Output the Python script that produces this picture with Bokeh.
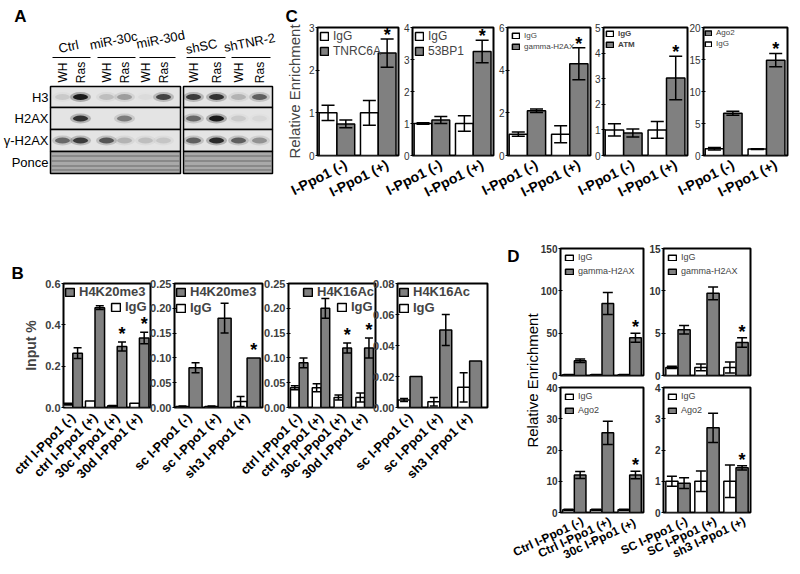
import math
import numpy as np
from bokeh.plotting import figure
from bokeh.models import (Range1d, FixedTicker, PrintfTickFormatter, Whisker, TeeHead,
                          ColumnDataSource, Legend, LegendItem)
from bokeh.layouts import row, column
from bokeh.embed import file_html
from bokeh.resources import INLINE
from bokeh.core.properties import value

FONT = "Liberation Sans"
GRAY = "#808080"

# ---------------- Panel A: western blot (band intensity 0..1) ----------------
blot_groups = ["Ctrl", "miR-30c", "miR-30d", "shSC", "shTNR-2"]
blot_lanes = ["WH", "Ras"] * 5
blot_rows = ["H3", "H2AX", "γ-H2AX", "Ponce"]
band_h3 = [0.10, 1.00, 0.15, 0.30, 0.03, 0.75, 0.80, 0.85, 0.20, 0.60]
band_h2ax = [0.00, 0.85, 0.00, 0.45, 0.00, 0.00, 0.55, 1.00, 0.10, 0.05]
band_gh2ax = [0.55, 0.80, 0.65, 0.20, 0.15, 0.12, 0.60, 0.90, 0.60, 0.35]

# ---------------- Panel B ----------------
b_ctrl_cats = ["ctrl I-Ppo1 (-)", "ctrl I-Ppo1 (+)", "30c I-Ppo1 (+)", "30d I-Ppo1 (+)"]
b_sc_cats = ["sc I-Ppo1 (-)", "sc I-Ppo1 (+)", "sh3 I-Ppo1 (+)"]
b1_igg = [0.016, 0.032, 0.008, 0.021]
b1_igg_err = [0.004, 0.0, 0.002, 0.0]
b1_h4k20 = [0.263, 0.483, 0.295, 0.336]
b1_h4k20_err = [0.026, 0.009, 0.022, 0.028]
b1_sig = [False, False, True, True]
b2_igg = [0.002, 0.002, 0.012]
b2_igg_err = [0.001, 0.001, 0.010]
b2_h4k20 = [0.080, 0.180, 0.100]
b2_h4k20_err = [0.010, 0.030, 0.0]
b2_sig = [False, False, True]
b3_igg = [0.040, 0.040, 0.020, 0.020]
b3_igg_err = [0.004, 0.008, 0.005, 0.009]
b3_h4k16 = [0.090, 0.200, 0.120, 0.120]
b3_h4k16_err = [0.010, 0.020, 0.010, 0.020]
b3_sig = [False, False, True, True]
b4_igg = [0.0048, 0.0037, 0.013]
b4_igg_err = [0.001, 0.0027, 0.0095]
b4_h4k16 = [0.020, 0.050, 0.030]
b4_h4k16_err = [0.0, 0.010, 0.0]
b4_sig = [False, False, False]

# ---------------- Panel C ----------------
c_cats = ["I-Ppo1 (-)", "I-Ppo1 (+)"]
c1_igg, c1_igg_err = [1.0, 1.0], [0.18, 0.29]
c1_tnrc6a, c1_tnrc6a_err = [0.74, 2.40], [0.09, 0.33]
c2_igg, c2_igg_err = [1.0, 1.0], [0.02, 0.24]
c2_53bp1, c2_53bp1_err = [1.11, 3.25], [0.11, 0.35]
c3_igg, c3_igg_err = [1.0, 1.0], [0.10, 0.40]
c3_gh2ax, c3_gh2ax_err = [2.10, 4.30], [0.08, 0.75]
c4_igg, c4_igg_err = [1.0, 1.0], [0.24, 0.33]
c4_atm, c4_atm_err = [0.88, 3.03], [0.16, 0.85]
c5_igg, c5_igg_err = [1.04, 1.0], [0.20, 0.05]
c5_ago2, c5_ago2_err = [6.6, 14.9], [0.3, 1.05]
c_sig = [False, True]

# ---------------- Panel D ----------------
d_ctrl_cats = ["Ctrl I-Ppo1 (-)", "Ctrl I-Ppo1 (+)", "30c  I-Ppo1 (+)"]
d_sc_cats = ["SC I-Ppo1 (-)", "SC I-Ppo1 (+)", "sh3 I-Ppo1 (+)"]
d1_igg, d1_igg_err = [1.0, 1.0, 1.0], [0.3, 0.3, 0.3]
d1_gh2ax, d1_gh2ax_err = [17.4, 85.0, 44.6], [2.0, 13.0, 5.4]
d2_igg, d2_igg_err = [0.95, 0.95, 0.95], [0.13, 0.40, 0.65]
d2_gh2ax, d2_gh2ax_err = [5.4, 9.7, 3.9], [0.5, 0.75, 0.55]
d3_igg, d3_igg_err = [0.85, 0.85, 0.85], [0.2, 0.2, 0.2]
d3_ago2, d3_ago2_err = [12.0, 25.5, 12.0], [1.1, 3.7, 1.2]
d4_igg, d4_igg_err = [1.0, 1.0, 1.0], [0.16, 0.33, 0.52]
d4_ago2, d4_ago2_err = [0.94, 2.71, 1.43], [0.17, 0.47, 0.07]
d_sig = [False, False, True]


# ---------------- helpers ----------------
def make_fig(width, height, bl, br, bt, bb, xr, ymax, ml=0):
    p = figure(width=width, height=height, x_range=Range1d(*xr), y_range=Range1d(0, ymax),
               output_backend="svg", toolbar_location=None, frame_align=False,
               min_border_left=bl, min_border_right=br, min_border_top=bt, min_border_bottom=bb,
               border_fill_color=None, background_fill_color="white",
               outline_line_color="black", outline_line_width=2, margin=(0, 0, 0, ml))
    p.grid.visible = False
    return p


def add_bars(p, n, white, white_err, gray, gray_err, sig, bw, cap, star_off):
    idx = np.arange(n)
    xw = idx - bw / 2
    xg = idx + bw / 2
    rw = p.vbar(x=xw, top=white, width=bw, fill_color="white", line_color="black", line_width=1.5)
    rg = p.vbar(x=xg, top=gray, width=bw, fill_color=GRAY, line_color="black", line_width=1.5)
    xs, lo, hi = [], [], []
    for x, v, e in zip(list(xw) + list(xg), list(white) + list(gray), list(white_err) + list(gray_err)):
        if e > 0:
            xs.append(float(x)); lo.append(v - e); hi.append(v + e)
    src = ColumnDataSource(dict(x=xs, lo=lo, hi=hi))
    p.add_layout(Whisker(base="x", lower="lo", upper="hi", source=src, level="annotation",
                         line_color="black", line_width=1.5,
                         upper_head=TeeHead(size=cap, line_width=1.5, line_color="black"),
                         lower_head=TeeHead(size=cap, line_width=1.5, line_color="black")))
    sx = [float(x) for x, s in zip(xg, sig) if s]
    sy = [v + e for v, e, s in zip(gray, gray_err, sig) if s]
    if sx:
        p.text(x=sx, y=sy, text=["*"] * len(sx), text_font=value(FONT), text_font_size="18px",
               text_font_style="bold", text_align="center", text_baseline="middle",
               y_offset=star_off, text_color="black")
    return rw, rg


def style_axes(p, cats, yticks, yfmt, ysize, ybold, ycolor, xsize, angle, show_x=True, shift=0.0):
    y = p.yaxis[0]
    y.ticker = FixedTicker(ticks=yticks)
    y.formatter = PrintfTickFormatter(format=yfmt)
    y.major_label_text_font = FONT
    y.major_label_text_font_size = ysize
    y.major_label_text_font_style = "bold" if ybold else "normal"
    y.major_label_text_color = ycolor
    y.major_tick_in = 2
    y.major_tick_out = 2
    y.major_tick_line_color = "black"
    y.minor_tick_line_color = None
    y.axis_line_color = None
    y.major_label_standoff = 1
    x = p.xaxis[0]
    if not show_x:
        x.visible = False
        return
    pos = [i + shift for i in range(len(cats))]
    x.ticker = FixedTicker(ticks=pos)
    x.major_label_overrides = {t: c for t, c in zip(pos, cats)}
    x.major_label_orientation = angle
    x.major_label_text_font = FONT
    x.major_label_text_font_size = xsize
    x.major_label_text_font_style = "bold"
    x.major_label_text_color = "black"
    x.major_tick_line_color = None
    x.minor_tick_line_color = None
    x.axis_line_color = None
    x.major_label_standoff = 2


def add_legend(p, items, location, size, bold=False, gw=10, gh=10, spacing=2, padding=1,
               margin=2, standoff=4):
    lg = Legend(items=[LegendItem(label=t, renderers=[r]) for t, r in items], location=location,
                label_text_font=FONT, label_text_font_size=size,
                label_text_font_style="bold" if bold else "normal",
                glyph_width=gw, glyph_height=gh, label_height=gh, label_standoff=standoff,
                spacing=spacing, padding=padding, margin=margin,
                border_line_color=None, background_fill_alpha=0)
    p.add_layout(lg)


def panel_letter(p, txt, offset, standoff):
    p.title.text = txt
    p.title.align = "left"
    p.title.offset = offset
    p.title.standoff = standoff
    p.title.text_font = FONT
    p.title.text_font_size = "17px"
    p.title.text_font_style = "bold"
    p.title.text_color = "black"


# ---------------- Panel A figure ----------------
pa = figure(width=276, height=240, x_range=Range1d(0, 276), y_range=Range1d(240, 0),
            output_backend="svg", toolbar_location=None, min_border=0, frame_align=False,
            x_axis_location=None, y_axis_location=None,
            border_fill_color=None, outline_line_color=None, background_fill_color=None)
pa.grid.visible = False
lane_x = [62, 80, 106, 124, 145, 163, 193, 216, 238, 259]
row_top = [86, 107, 129, 151]
row_bot = [107, 129, 151, 173]
row_mid = [(a + b) / 2 for a, b in zip(row_top, row_bot)]
box_l, box_r = [50, 183], [180, 272]
for i in range(4):
    pa.quad(left=box_l, right=box_r, top=[row_top[i]] * 2, bottom=[row_bot[i]] * 2,
            fill_color="#e4e4e4" if i < 3 else "#a9a9a9", line_color="black", line_width=1.5)
for yy in [155.5, 160.5, 165.5, 169.5]:
    pa.segment(x0=[51, 184], y0=[yy, yy], x1=[179, 271], y1=[yy, yy], line_color="#6e6e6e",
               line_width=1.6, line_alpha=0.7)
for yc, vals in zip(row_mid[:3], [band_h3, band_h2ax, band_gh2ax]):
    pa.ellipse(x=lane_x, y=[yc] * 10, width=21, height=10, fill_color="black",
               fill_alpha=[v * 0.25 for v in vals], line_color=None)
    pa.ellipse(x=lane_x, y=[yc] * 10, width=15, height=6, fill_color="black",
               fill_alpha=[v * 0.85 for v in vals], line_color=None)
pa.text(x=[68, 113, 160, 201, 249], y=[46, 40, 39, 46, 42], text=blot_groups, angle=0.2,
        text_font=value(FONT), text_font_size="13px", text_align="center", text_baseline="middle")
pa.segment(x0=[52, 97, 139, 186, 231], y0=[57] * 5, x1=[90, 135, 175, 225, 270], y1=[57] * 5,
           line_color="black", line_width=1)
pa.text(x=lane_x, y=[72] * 10, text=blot_lanes, angle=math.pi / 2,
        text_font=value(FONT), text_font_size="12px", text_align="center", text_baseline="middle")
pa.text(x=[48] * 4, y=row_mid, text=blot_rows, text_font=value(FONT), text_font_size="13px",
        text_align="right", text_baseline="middle")
pa.text(x=[20], y=[16], text=["A"], text_font=value(FONT), text_font_size="17px",
        text_font_style="bold", text_align="center", text_baseline="middle")

# ---------------- Panel C figures ----------------
CXR = (-0.47, 1.49)
CBW = 0.43
c_specs = [
    (124, 41, 2, 0, 3, [0, 1, 2, 3], c1_igg, c1_igg_err, c1_tnrc6a, c1_tnrc6a_err, "TNRC6A"),
    (120, 36, 3, -24, 4, [0, 1, 2, 3, 4], c2_igg, c2_igg_err, c2_53bp1, c2_53bp1_err, "53BP1"),
    (121, 35, 3, -24, 6, [0, 2, 4, 6], c3_igg, c3_igg_err, c3_gh2ax, c3_gh2ax_err, "gamma-H2AX"),
    (122, 35, 3, -25, 5, [0, 1, 2, 3, 4, 5], c4_igg, c4_igg_err, c4_atm, c4_atm_err, "ATM"),
    (122, 35, 3, -22, 20, [0, 5, 10, 15, 20], c5_igg, c5_igg_err, c5_ago2, c5_ago2_err, "Ago2"),
]
c_figs = []
for k, (w, bl, br, ml, ymax, ticks, ig, ige, pr, pre, name) in enumerate(c_specs):
    p = make_fig(w, 240, bl, br, 27, 85, CXR, ymax, ml)
    rw, rg = add_bars(p, 2, ig, ige, pr, pre, c_sig, CBW, 13, -4)
    style_axes(p, c_cats, ticks, "%d", "10px", False, "#333333", "14px", 0.47, shift=0.22)
    if k < 2:
        add_legend(p, [("IgG", rw), (name, rg)], "top_left", "12px", gw=10, gh=10, spacing=1,
                   padding=1, margin=2)
    elif k == 2:
        add_legend(p, [("IgG", rw), (name, rg)], "top_left", "8px", gw=9, gh=7, spacing=2,
                   padding=1, margin=4)
    elif k == 3:
        add_legend(p, [("IgG", rw), (name, rg)], "top_left", "8px", bold=True, gw=9, gh=7,
                   spacing=2, padding=1, margin=2)
    else:
        add_legend(p, [(name, rg), ("IgG", rw)], "top_left", "8px", gw=8, gh=6, spacing=2,
                   padding=1, margin=1)
    if k == 0:
        p.yaxis.axis_label = "Relative Enrichment"
        p.yaxis.axis_label_text_font = FONT
        p.yaxis.axis_label_text_font_size = "15px"
        p.yaxis.axis_label_text_font_style = "normal"
        p.yaxis.axis_label_standoff = 3
        panel_letter(p, "C", -32, 3)
    c_figs.append(p)

# ---------------- Panel B figures ----------------
b_specs = [
    (152, 63, 2, 0, (-0.42, 3.5), 0.6, [0, 0.2, 0.4, 0.6], "%.1f", b_ctrl_cats, b1_igg, b1_igg_err,
     b1_h4k20, b1_h4k20_err, b1_sig, "H4K20me3", 0.43),
    (135, 44, 3, -22, (-0.5, 2.53), 0.25, [0, 0.05, 0.10, 0.15, 0.20, 0.25], "%.2f", b_sc_cats,
     b2_igg, b2_igg_err, b2_h4k20, b2_h4k20_err, b2_sig, "H4K20me3", 0.45),
    (144, 54, 3, -31, (-0.49, 3.5), 0.25, [0, 0.05, 0.10, 0.15, 0.20, 0.25], "%.2f", b_ctrl_cats,
     b3_igg, b3_igg_err, b3_h4k16, b3_h4k16_err, b3_sig, "H4K16Ac", 0.40),
    (140, 47, 3, -28, (-0.42, 2.6), 0.08, [0, 0.02, 0.04, 0.06, 0.08], "%.2f", b_sc_cats,
     b4_igg, b4_igg_err, b4_h4k16, b4_h4k16_err, b4_sig, "H4K16Ac", 0.40),
]
b_figs = []
for k, (w, bl, br, ml, xr, ymax, ticks, fmt, cats, ig, ige, pr, pre, sig, name, bw) in enumerate(b_specs):
    p = make_fig(w, 330, bl, br, 43, 163, xr, ymax, ml)
    rw, rg = add_bars(p, len(cats), ig, ige, pr, pre, sig, bw, 8, -8)
    style_axes(p, cats, ticks, fmt, "11px", True, "#404040", "13px", math.pi / 4)
    if k in (1, 3):
        add_legend(p, [(name, rg), ("IgG", rw)], "top_left", "13px", bold=True, gw=11, gh=10,
                   spacing=1, padding=1, margin=1)
    elif k == 0:
        add_legend(p, [(name, rg)], "top_left", "13px", bold=True, gw=11, gh=10, padding=1, margin=1)
        add_legend(p, [("IgG", rw)], (47, 93), "13px", bold=True, gw=11, gh=10, padding=1, margin=0)
    else:
        add_legend(p, [(name, rg)], (14, 108), "13px", bold=True, gw=11, gh=10, padding=1, margin=0)
        add_legend(p, [("IgG", rw)], (48, 93), "13px", bold=True, gw=11, gh=10, padding=1, margin=0)
    if k == 0:
        p.yaxis.axis_label = "Input %"
        p.yaxis.axis_label_text_font = FONT
        p.yaxis.axis_label_text_font_size = "14px"
        p.yaxis.axis_label_text_font_style = "bold"
        p.yaxis.axis_label_standoff = 3
        panel_letter(p, "B", -52, 1)
    b_figs.append(p)

# ---------------- Panel D label figure ----------------
pdl = figure(width=55, height=330, x_range=Range1d(490, 545), y_range=Range1d(570, 240),
             output_backend="svg", toolbar_location=None, min_border=0, frame_align=False,
             x_axis_location=None, y_axis_location=None,
             border_fill_color=None, outline_line_color=None, background_fill_color=None)
pdl.grid.visible = False
pdl.text(x=[513], y=[256], text=["D"], text_font=value(FONT), text_font_size="17px",
         text_font_style="bold", text_align="center", text_baseline="middle")
pdl.text(x=[532], y=[380], text=["Relative Enrichment"], angle=math.pi / 2,
         text_font=value(FONT), text_font_size="15px", text_align="center", text_baseline="middle")

# ---------------- Panel D figures ----------------
DXR = (-0.5, 2.5)
DBW = 0.42


def d_fig(width, height, bl, bt, bb, ymax, ticks, cats, ig, ige, pr, pre, name, show_x):
    p = make_fig(width, height, bl, 3, bt, bb, DXR, ymax)
    rw, rg = add_bars(p, 3, ig, ige, pr, pre, d_sig, DBW, 10, -6)
    style_axes(p, cats, ticks, "%d", "10px", True, "#333333", "12px", 0.44, show_x, shift=0.3)
    add_legend(p, [("IgG", rw), (name, rg)], "top_left", "9px", gw=10, gh=7, spacing=4,
               padding=1, margin=4)
    return p


d_tl = d_fig(156, 141, 70, 8, 6, 150, [0, 50, 100, 150], d_ctrl_cats, d1_igg, d1_igg_err,
             d1_gh2ax, d1_gh2ax_err, "gamma-H2AX", False)
d_bl = d_fig(156, 189, 70, 6, 58, 40, [0, 10, 20, 30, 40], d_ctrl_cats, d3_igg, d3_igg_err,
             d3_ago2, d3_ago2_err, "Ago2", True)
d_tr = d_fig(153, 141, 63, 8, 6, 15, [0, 5, 10, 15], d_sc_cats, d2_igg, d2_igg_err,
             d2_gh2ax, d2_gh2ax_err, "gamma-H2AX", False)
d_br = d_fig(153, 189, 63, 6, 58, 4, [0, 1, 2, 3, 4], d_sc_cats, d4_igg, d4_igg_err,
             d4_ago2, d4_ago2_err, "Ago2", True)

d_left = column(d_tl, d_bl, margin=(0, 0, 0, -55))
d_right = column(d_tr, d_br, margin=(0, 0, 0, -46))

top = row(pa, *c_figs)
bottom = row(*b_figs, pdl, d_left, d_right)
layout = column(top, bottom)

open("out.html", "w").write(file_html(layout, INLINE))
